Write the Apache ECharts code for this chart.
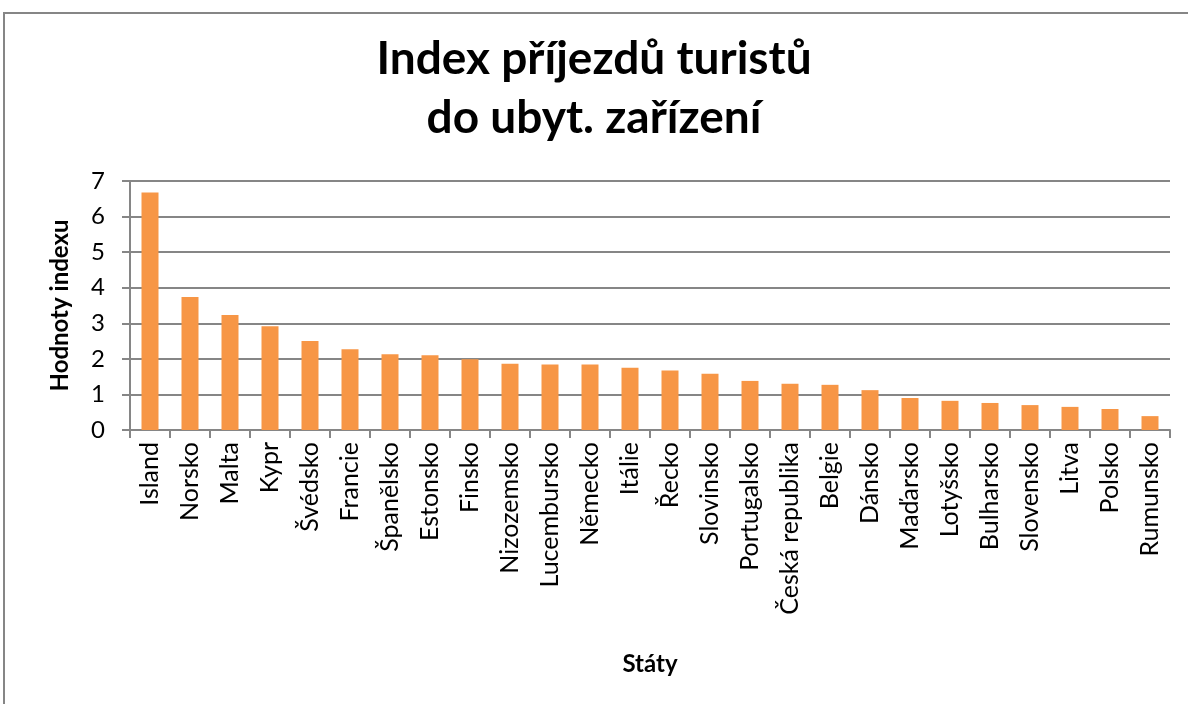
<!DOCTYPE html>
<html>
<head>
<meta charset="utf-8">
<script src="https://cdn.jsdelivr.net/npm/echarts@6/dist/echarts.min.js"></script>
<style>
  html, body { margin: 0; padding: 0; background: #fff; }
  #frame {
    position: absolute; left: 3px; top: 12px; width: 1200px; height: 720px;
    border-left: 2px solid #868686; border-top: 2px solid #868686;
  }
  #chart { position: absolute; left: 0; top: 0; width: 1188px; height: 704px; }
</style>
</head>
<body>
<div id="frame"></div>
<div id="chart"></div>
<script>
// státy a hodnoty indexu
const staty = ['Island', 'Norsko', 'Malta', 'Kypr', 'Švédsko', 'Francie', 'Španělsko', 'Estonsko',
  'Finsko', 'Nizozemsko', 'Lucembursko', 'Německo', 'Itálie', 'Řecko', 'Slovinsko', 'Portugalsko',
  'Česká republika', 'Belgie', 'Dánsko', 'Maďarsko', 'Lotyšsko', 'Bulharsko', 'Slovensko', 'Litva',
  'Polsko', 'Rumunsko']
const hodnoty = [6.68, 3.74, 3.23, 2.92, 2.50, 2.27, 2.13, 2.10, 1.99, 1.86, 1.84, 1.84, 1.75, 1.67,
  1.58, 1.38, 1.30, 1.27, 1.12, 0.90, 0.82, 0.76, 0.70, 0.65, 0.59, 0.39]

const fontFam = 'Lato, "Open Sans", sans-serif'
const gray = '#868686'

let myChart = echarts.init(document.getElementById('chart'))
let options = {
  animation: false,
  title: {
    text: 'Index příjezdů turistů\ndo ubyt. zařízení',
    left: 'center',
    top: 25,
    textStyle: { fontFamily: fontFam, fontSize: 46, fontWeight: 'bold', lineHeight: 59, color: '#000' }
  },
  grid: { left: 130, right: 18, top: 181, bottom: 274 },
  xAxis: {
    type: 'category',
    data: staty,
    name: 'Státy',
    nameLocation: 'middle',
    nameGap: 222,
    nameTextStyle: { fontFamily: fontFam, fontSize: 24, fontWeight: 'bold', color: '#000' },
    axisLine: { lineStyle: { color: gray, width: 2 } },
    axisTick: { show: true, length: 8, lineStyle: { color: gray, width: 2 }, alignWithLabel: false },
    axisLabel: { rotate: 90, margin: 12, fontFamily: fontFam, fontSize: 25, color: '#000', interval: 0 }
  },
  yAxis: {
    type: 'value',
    min: 0,
    max: 7,
    interval: 1,
    name: 'Hodnoty indexu',
    nameLocation: 'middle',
    nameGap: 58,
    nameTextStyle: { fontFamily: fontFam, fontSize: 24, fontWeight: 'bold', color: '#000' },
    axisLine: { show: true, lineStyle: { color: gray, width: 2 } },
    axisTick: { show: true, length: 8, lineStyle: { color: gray, width: 2 } },
    axisLabel: { margin: 25, fontFamily: fontFam, fontSize: 24, color: '#000' },
    splitLine: { lineStyle: { color: gray, width: 2 } }
  },
  series: [
    {
      type: 'bar',
      data: hodnoty,
      barWidth: 17,
      itemStyle: { color: '#F79646' }
    }
  ]
}
myChart.setOption(options)
</script>
</body>
</html>
